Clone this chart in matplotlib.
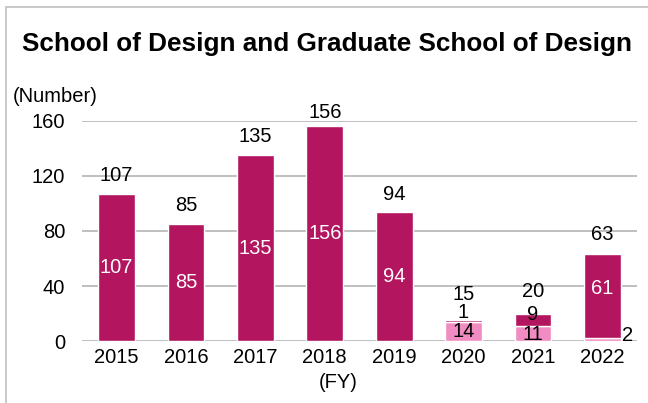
import matplotlib.pyplot as plt
import numpy as np
from matplotlib.patches import Rectangle

plt.rcParams['font.family'] = ['Liberation Sans', 'DejaVu Sans']

years = ['2015', '2016', '2017', '2018', '2019', '2020', '2021', '2022']
light = [0, 0, 0, 0, 0, 14, 11, 2]
dark = [107, 85, 135, 156, 94, 1, 9, 61]
totals = [a + b for a, b in zip(light, dark)]

dark_color = '#B3155F'
light_color = '#F08CC2'
fs = 14.5
px = 0.72  # points per pixel at dpi 100

fig = plt.figure(figsize=(6.48, 4.03), dpi=100)
ax = fig.add_axes([0.1265, 0.1538, 0.8565, 0.546])

x = np.arange(len(years))
width = 0.53
ax.bar(x, light, width, color=light_color, edgecolor='white', linewidth=1, zorder=3)
ax.bar(x, dark, width, bottom=light, color=dark_color, edgecolor='white', linewidth=1, zorder=3)

ax.set_xlim(-0.5, 7.5)
ax.set_ylim(0, 160)
ax.set_yticks([0, 40, 80, 120, 160])
ax.set_xticks(x)
ax.set_xticklabels(years)
ax.tick_params(length=0, labelsize=fs)
ax.tick_params(axis='y', pad=12)
ax.tick_params(axis='x', pad=5)
for s in ax.spines.values():
    s.set_visible(False)
ax.grid(axis='y', color='#BFBFBF', linewidth=1.4, zorder=0)
ax.set_axisbelow(True)

# segment labels
for i in range(len(years)):
    if light[i] > 0:
        if i == 7:
            ax.annotate(str(light[i]), (x[i] + width / 2, 0), xytext=(1, 0),
                        textcoords='offset points', ha='left', va='baseline', fontsize=fs,
                        color='black', zorder=4)
        elif i == 6:
            ax.annotate(str(light[i]), (x[i], light[i] / 2), xytext=(0, -1 * px),
                        textcoords='offset points', ha='center', va='center',
                        fontsize=fs, color='black', zorder=4)
        else:
            ax.text(x[i], light[i] / 2, str(light[i]), ha='center', va='center',
                    fontsize=fs, color='black', zorder=4)
    if i == 5:
        ax.annotate(str(dark[i]), (x[i], light[i] + dark[i]), xytext=(0, 2 * px),
                    textcoords='offset points', ha='center', va='baseline', fontsize=fs,
                    color='black', zorder=4)
    elif i == 6:
        ax.annotate(str(dark[i]), (x[i], light[i] + dark[i] / 2), xytext=(0, 5 * px),
                    textcoords='offset points', ha='center', va='center', fontsize=fs,
                    color='black', zorder=4)
    elif i == 7:
        ax.annotate(str(dark[i]), (x[i], light[i] + dark[i] / 2), xytext=(0, 8 * px),
                    textcoords='offset points', ha='center', va='center', fontsize=fs,
                    color='white', zorder=4)
    else:
        ax.text(x[i], light[i] + dark[i] / 2, str(dark[i]), ha='center', va='center',
                fontsize=fs, color='white', zorder=4)

# totals
total_gap = [13, 13, 13, 8, 12, 20, 17, 14]
for i in range(len(years)):
    ax.annotate(str(totals[i]), (x[i], totals[i]), xytext=(0, total_gap[i] * px),
                textcoords='offset points', ha='center', va='baseline', fontsize=fs,
                color='black', zorder=4, annotation_clip=False)

fig.text(22 / 648, 1 - 44 / 403, 'School of Design and Graduate School of Design',
         fontsize=18.8, fontweight='bold', ha='left', va='center')
fig.text(13 / 648, 1 - 96 / 403, '(Number)', fontsize=fs, ha='left', va='center')
fig.text(338 / 648, 1 - 383 / 403, '(FY)', fontsize=fs, ha='center', va='center')

fig.patches.append(Rectangle((6 / 648, -0.1), 1.2, 1.1 - 7 / 403,
                             transform=fig.transFigure, fill=False,
                             edgecolor='#BFBFBF', linewidth=1.2))

fig.savefig('out.png', dpi=100)
